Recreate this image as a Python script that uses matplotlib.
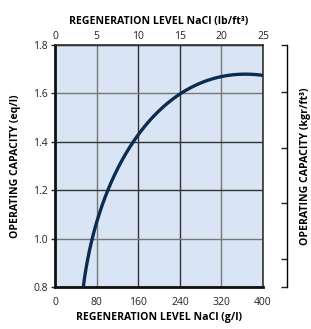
import numpy as np
import matplotlib
matplotlib.use("Agg")
import matplotlib.pyplot as plt

plt.rcParams['font.family'] = ['Open Sans', 'DejaVu Sans']

# curve (g/l NaCl vs eq/l)
regen_gl = [54, 62, 72, 80, 99, 123, 152, 185, 211, 240, 278, 320, 361, 400]
capacity = [0.80, 0.89, 1.00, 1.07, 1.20, 1.30, 1.40, 1.49, 1.546, 1.60, 1.645, 1.670, 1.680, 1.673]

x_ticks = [0, 80, 160, 240, 320, 400]
y_ticks = [0.8, 1.0, 1.2, 1.4, 1.6, 1.8]
top_ticks = [0, 5, 10, 15, 20, 25]
kgr_ticks = [20, 25, 30, 35]

GL_PER_LB = 16.0       # g/l per lb/ft3
KGR_PER_EQ = 21.8      # kgr/ft3 per eq/l

fig = plt.figure(figsize=(3.11, 3.29), dpi=100)
ax = fig.add_axes([0.1768, 0.1277, 0.669, 0.7355])
ax.set_facecolor('#d9e5f5')

# least-squares smoothing of the read points (sqrt-scaled so the steep start fits)
u = np.sqrt(np.array(regen_gl) - 48.0)
coef = np.polyfit(u, capacity, 4)
cx = np.linspace(regen_gl[0], regen_gl[-1], 400)
cy = np.polyval(coef, np.sqrt(cx - 48.0))
ax.plot(cx, cy, color='#0b2c50', lw=2.4, solid_capstyle='butt', zorder=3, clip_on=True)

ax.set_xlim(0, 400)
ax.set_ylim(0.8, 1.8)
ax.set_xticks(x_ticks)
ax.set_yticks(y_ticks)
ax.set_yticklabels([f'{v:.1f}' for v in y_ticks])
ax.grid(True, color='#444444', lw=1.0)
ax.set_axisbelow(True)
# alternate light / dark grid lines as in the original
for i, gl in enumerate(ax.get_xgridlines()):
    gl.set_color('#777777' if i in (1, 4) else '#333333')
for i, gl in enumerate(ax.get_ygridlines()):
    gl.set_color('#777777' if i in (1, 4) else '#333333')
ax.tick_params(labelsize=7.5, length=3, width=1, colors='#222222', pad=2)
ax.tick_params(axis='x', length=0, pad=7)

for side in ['top', 'right']:
    ax.spines[side].set_color('#333333')
    ax.spines[side].set_linewidth(1.2)
for side in ['left', 'bottom']:
    ax.spines[side].set_color('#111111')
    ax.spines[side].set_linewidth(2)

ax.set_xlabel('REGENERATION LEVEL NaCl (g/l)', fontsize=7.6, fontweight='bold', labelpad=3)
ax.set_ylabel('OPERATING CAPACITY (eq/l)', fontsize=7.6, fontweight='bold', labelpad=9)

# top axis in lb/ft3
top = ax.secondary_xaxis('top', functions=(lambda v: v / GL_PER_LB, lambda v: v * GL_PER_LB))
top.set_xticks(top_ticks)
top.tick_params(labelsize=7.5, length=0, pad=2, colors='#222222')
top.set_xlabel('REGENERATION LEVEL NaCl (lb/ft³)', fontsize=7.6, fontweight='bold', labelpad=5)

# right axis in kgr/ft3, detached spine
right = ax.twinx()
right.set_ylim(0.8 * KGR_PER_EQ, 1.8 * KGR_PER_EQ)
right.set_yticks([0.8 * KGR_PER_EQ] + kgr_ticks + [1.8 * KGR_PER_EQ])
right.set_yticklabels([])
right.spines['right'].set_position(('axes', 1.115))
right.spines['right'].set_linewidth(1)
for side in ['left', 'top', 'bottom']:
    right.spines[side].set_visible(False)
right.tick_params(axis='y', direction='in', length=4, width=1, colors='#222222')
right.set_ylabel('OPERATING CAPACITY (kgr/ft³)', fontsize=7.6, fontweight='bold', labelpad=6)

fig.savefig('out.png', dpi=100)
